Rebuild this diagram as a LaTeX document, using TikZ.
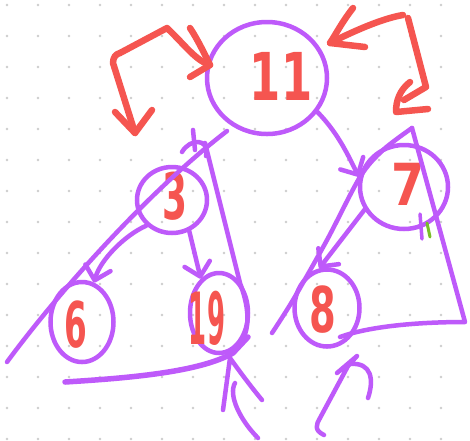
\documentclass[tikz,border=0pt]{standalone}
\usepackage{fontspec}
\newfontfamily\handfont{DejaVu Sans}
\usetikzlibrary{shapes.geometric,arrows.meta}
\definecolor{pur}{RGB}{190,90,250}
\definecolor{redink}{RGB}{245,85,80}
\definecolor{greenink}{RGB}{120,190,40}
\definecolor{dotgray}{RGB}{205,205,205}
\newcommand\handdig[3]{{\handfont\bfseries\fontsize{#1}{#1}\selectfont\scalebox{#2}[1]{#3}}}
\tikzset{
  circ/.style={draw=pur, line width=4.5pt, ellipse, inner sep=0pt},
  digit/.style={text=redink, inner sep=0pt},
  pl/.style={draw=pur, line width=4.5pt, line cap=round, line join=round},
  rl/.style={draw=redink, line width=6.5pt, line cap=round, line join=round},
  parrow/.style={pl, -{Straight Barb[length=13pt,width=26pt,round]}},
}
\begin{document}
\begin{tikzpicture}[x=1pt,y=-1pt]
\useasboundingbox (0,0) rectangle (470,440);
\fill[white] (0,0) rectangle (470,440);
\foreach \i in {0,...,15}{\foreach \j in {0,...,14}{
  \fill[dotgray] (7+31*\i,5+31*\j) circle (1.3pt);}}

% tree nodes (circles)
\node[circ, minimum width=120pt, minimum height=112pt] (n11) at (267,78) {};
\node[circ, minimum width=70pt, minimum height=66pt] (n3) at (172,200) {};
\node[circ, minimum width=63pt, minimum height=80pt] (n6) at (82,322) {};
\node[circ, minimum width=58pt, minimum height=80pt] (n19) at (219,313) {};
\node[circ, minimum width=88pt, minimum height=84pt] (n7) at (404,187) {};
\node[circ, minimum width=65pt, minimum height=77pt] (n8) at (327,308) {};

% labels
\node[digit] (t11) at (281,76) {\handdig{66}{0.68}{11}};
\node[digit] (t3) at (175,196) {\handdig{64}{0.56}{3}};
\node[digit] (t6) at (76,325) {\handdig{63}{0.52}{6}};
\node[digit] (t19) at (207,318) {\handdig{72}{0.36}{19}};
\node[digit] (t7) at (408,184) {\handdig{58}{0.82}{7}};
\node[digit] (t8) at (323,310) {\handdig{63}{0.61}{8}};

% tree edges
\draw[parrow] (n11.-34) .. controls (340,135) and (350,160) .. (n7.167);
\draw[parrow] (n3.225) .. controls (125,235) and (100,260) .. (n6.73);
\draw[parrow] (n3.-61) -- (n19.118);
\draw[parrow] (n7.210) -- (n8.101);

% left subtree triangle
\draw[pl] (227,131) .. controls (150,190) and (60,290) .. (7,362);
\draw[pl] (193,130) -- (195,150);
\draw[pl] (182,152) .. controls (190,138) and (210,138) .. (206,156);
\draw[pl] (205,143) -- (240,283) .. controls (250,310) and (252,335) .. (233,353);
\draw[pl, line width=5.5pt] (65,382) .. controls (130,378) and (200,372) .. (233,353) -- (248,337);

% right subtree triangle
\draw[pl] plot[smooth] coordinates {(412,128) (383,150) (360,177) (327,240) (293,300) (272,333)};
\draw[pl] (412,128) -- (465,322) .. controls (420,322) and (370,326) .. (340,337);
\draw[pl, line width=3.5pt] (420,214) -- (422,239);
\draw[draw=greenink, line width=3pt, line cap=round] (427,223) -- (430,237);

% red rotation arrows
\coordinate (la) at (135,133);
\coordinate (lb) at (210,65);
\draw[rl] (la) -- (113,63) .. controls (113,57) and (116,54) .. (120,53) -- (167,28) .. controls (185,45) and (195,60) .. (lb);
\draw[rl] (115,112) -- (la) -- (152,110);
\draw[rl] (190,28) .. controls (198,40) and (205,55) .. (lb) -- (190,77);

\coordinate (ra) at (330,43);
\coordinate (rb) at (396,112);
\draw[rl] (ra) .. controls (360,28) and (385,18) .. (403,15);
\draw[rl] (408,18) -- (426,87) -- (404,100);
\draw[rl] (353,8) .. controls (342,22) and (336,34) .. (ra) -- (365,47);
\draw[rl] (410,82) .. controls (400,90) and (396,100) .. (rb) -- (428,109);

% bottom arrows
\coordinate (ba) at (230,358);
\draw[pl] (223,410) -- (ba) .. controls (240,372) and (252,388) .. (262,400);
\draw[pl] (235,383) .. controls (228,395) and (240,420) .. (258,438);
\coordinate (bb) at (357,356);
\draw[pl] (324,435) .. controls (314,430) and (316,425) .. (320,418) -- (348,366) -- (bb) -- (337,373);
\draw[pl] (350,364) .. controls (372,362) and (374,380) .. (368,398);
\end{tikzpicture}
\end{document}
